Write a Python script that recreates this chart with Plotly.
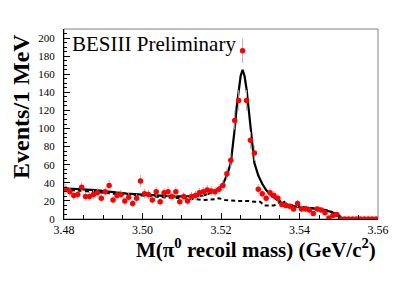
import numpy as np
import plotly.graph_objects as go

# ---- data ----
bin_lo, bin_w = 3.480, 0.001
counts = [33, 30, 26, 27, 35, 25, 25, 27, 29, 23,
          30, 37, 21, 26, 27, 20, 24, 17, 23, 42,
          28, 27, 21, 30, 19, 29, 30, 25, 30, 19,
          25, 20, 25, 26, 29, 30, 32, 31, 30, 33,
          37, 50, 65, 109, 131, 186, 131, 87, 73, 33,
          28, 23, 29, 26, 23, 16, 15, 14, 11, 17,
          11, 11, 10, 6, 11, 10, 7, 1, 4, 5,
          0, 0, 0, 0, 0, 0, 0, 0, 0, 0]
bin_centers = bin_lo + bin_w * (np.arange(len(counts)) + 0.5)
errors = np.sqrt(np.array(counts, dtype=float))

fit_x = [3.480, 3.484, 3.488, 3.492, 3.496, 3.500, 3.504, 3.508, 3.512, 3.5155,
         3.5175, 3.5195, 3.5205, 3.5215, 3.5225, 3.523, 3.5235, 3.524, 3.5245, 3.525,
         3.5255, 3.526, 3.5265, 3.527, 3.5275, 3.528, 3.5285, 3.5295, 3.5305, 3.5315,
         3.533, 3.535, 3.5375, 3.540, 3.543, 3.546, 3.548, 3.550, 3.551, 3.556, 3.560]
fit_y = [34, 33, 32, 30, 28, 27, 26, 25, 25, 26,
         29, 34, 39, 48, 62, 80, 100, 124, 144, 158,
         165, 158, 144, 124, 100, 80, 62, 48, 39, 32,
         25, 19, 15, 13, 12, 10, 8, 4, 0, 0, 0]

bkg_x = [3.480, 3.485, 3.490, 3.495, 3.500, 3.505, 3.510, 3.513, 3.516, 3.5185,
         3.5195, 3.521, 3.524, 3.527, 3.5285, 3.530, 3.531, 3.5335, 3.5345, 3.5355,
         3.537, 3.540, 3.543, 3.546, 3.548, 3.550, 3.551, 3.560]
bkg_y = [32, 31, 29, 27, 26, 24, 23, 22, 21, 22,
         23, 21, 20, 20, 19, 19, 15, 15, 17, 21,
         16, 14, 12, 11, 8, 4, 0, 0]

x_ticks = [3.48, 3.50, 3.52, 3.54, 3.56]
y_ticks = [0, 20, 40, 60, 80, 100, 120, 140, 160, 180, 200]

SERIF = "Liberation Serif"

fig = go.Figure()
fig.add_trace(go.Scatter(x=bkg_x, y=bkg_y, mode="lines",
                         line=dict(color="black", width=2, dash="4px,3px"),
                         showlegend=False, hoverinfo="skip"))
fig.add_trace(go.Scatter(x=fit_x, y=fit_y, mode="lines",
                         line=dict(color="black", width=2.2),
                         showlegend=False, hoverinfo="skip"))
fig.add_trace(go.Scatter(x=bin_centers, y=counts, mode="markers",
                         marker=dict(color="#ff0000", size=5.5),
                         error_y=dict(type="data", array=errors, color="#b4b4b4",
                                      thickness=1, width=0),
                         showlegend=False))

fig.update_layout(
    width=407, height=273,
    margin=dict(l=56, r=37, t=21, b=62),
    paper_bgcolor="white", plot_bgcolor="white",
    font=dict(family=SERIF, color="black"),
    xaxis=dict(range=[3.48, 3.56], tickvals=x_ticks, tickformat=".2f",
               ticks="inside", ticklen=6, tickcolor="black",
               minor=dict(dtick=0.005, ticks="inside", ticklen=4, tickcolor="black"),
               showgrid=False, zeroline=False, showline=True, linecolor="black",
               linewidth=1, tickfont=dict(size=12, family=SERIF)),
    yaxis=dict(range=[0, 210], tickvals=y_ticks,
               ticks="inside", ticklen=6, tickcolor="black",
               minor=dict(dtick=5, ticks="inside", ticklen=3, tickcolor="black"),
               showgrid=False, zeroline=False, showline=True, linecolor="black",
               linewidth=1, tickfont=dict(size=11, family=SERIF),
               ticklabelstandoff=6),
    shapes=[dict(type="rect", xref="paper", yref="paper", x0=0, x1=1, y0=0, y1=1,
                 line=dict(color="#808080", width=1), layer="below")],
    annotations=[
        dict(text="BESIII Preliminary", xref="paper", yref="paper",
             x=0.02, y=0.995, xanchor="left", yanchor="top", showarrow=False,
             font=dict(size=21, family=SERIF)),
        dict(text="<b>M(π<sup>0</sup> recoil mass) (GeV/c<sup>2</sup>)</b>",
             xref="paper", yref="paper", x=1.0, y=-0.075, xanchor="right",
             yanchor="top", showarrow=False, font=dict(size=21, family=SERIF)),
        dict(text="<b>Events/1 MeV</b>", xref="paper", yref="paper",
             x=-0.135, y=0.985, xanchor="center", yanchor="top", textangle=-90,
             showarrow=False, font=dict(size=24, family=SERIF)),
    ],
)

fig.write_html("out.html")
